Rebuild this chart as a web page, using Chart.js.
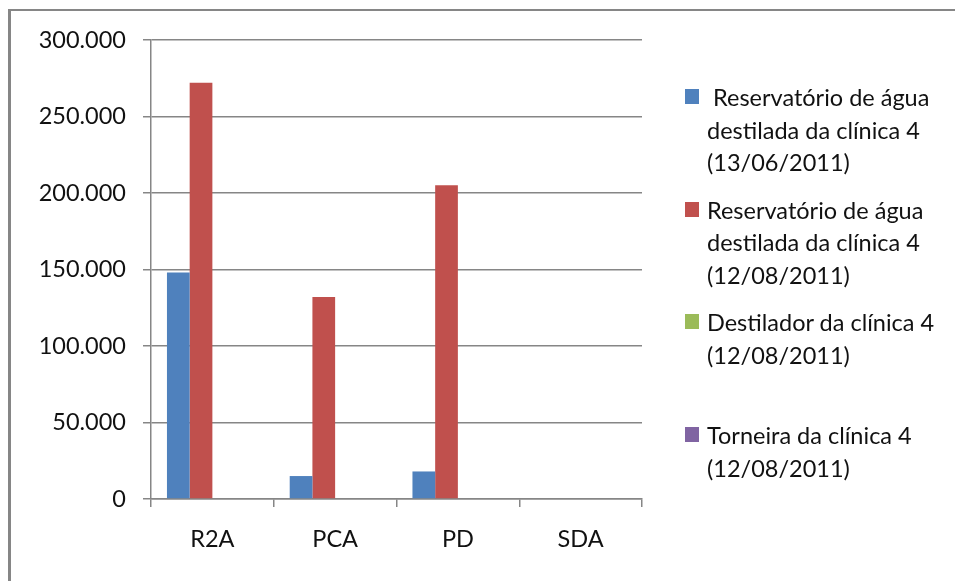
<!DOCTYPE html>
<html>
<head>
<meta charset="utf-8">
<script src="https://cdn.jsdelivr.net/npm/chart.js@4/dist/chart.umd.min.js"></script>
<style>
  html, body { margin: 0; padding: 0; background: #fff; }
  #wrap { position: relative; width: 955px; height: 581px; overflow: hidden; }
  #frame { position: absolute; left: 8px; top: 9px; width: 2000px; height: 2000px;
           border-top: 2px solid #868686; border-left: 3px solid #868686; }
  canvas { position: absolute; left: 0; top: 0; }
  #legend { position: absolute; left: 685px; top: 81px; font-family: Lato, "Open Sans", sans-serif;
            font-size: 23.5px; color: #111; }
  .item { position: relative; height: 112.7px; }
  .box { position: absolute; left: 0; top: 8px; width: 14px; height: 15px; }
  .txt { position: absolute; left: 22px; top: 0; line-height: 32.5px; white-space: pre; }
</style>
</head>
<body>
<div id="wrap">
  <div id="frame"></div>
  <canvas id="c" width="955" height="581"></canvas>
  <div id="legend"></div>
</div>
<script>
// Culture media on the horizontal axis
const categories = ["R2A", "PCA", "PD", "SDA"];

// Sampling points (legend text, one entry per line)
const seriesNames = [
  [" Reservatório de água", "destilada da clínica 4", "(13/06/2011)"],
  ["Reservatório de água", "destilada da clínica 4", "(12/08/2011)"],
  ["Destilador da clínica 4", "(12/08/2011)"],
  ["Torneira da clínica 4", "(12/08/2011)"]
];
const seriesColors = ["#4F81BD", "#C0504D", "#9BBB59", "#8064A2"];

// Counts per medium for each sampling point
const reservatorio1306 = [148000, 15000, 18000, 0];
const reservatorio1208 = [272000, 132000, 205000, 0];
const destilador1208   = [0, 0, 0, 0];
const torneira1208     = [0, 0, 0, 0];

// Value axis ticks
const yTicks = [0, 50000, 100000, 150000, 200000, 250000, 300000];

const seriesValues = [reservatorio1306, reservatorio1208, destilador1208, torneira1208];

const fmt = v => v === 0 ? "0" : v.toLocaleString("pt-BR");

const datasets = seriesValues.map((vals, i) => ({
  label: seriesNames[i].join(" ").trim(),
  data: vals,
  backgroundColor: seriesColors[i],
  borderWidth: 0,
  categoryPercentage: 0.74,
  barPercentage: 1.0
}));

const FONT = { family: "Lato, 'Open Sans', sans-serif", size: 23.5 };

const chart = new Chart(document.getElementById("c"), {
  type: "bar",
  data: { labels: categories, datasets },
  options: {
    responsive: false,
    animation: false,
    devicePixelRatio: 1,
    layout: { padding: { left: 0, top: 40, right: 313, bottom: 0 } },
    plugins: { legend: { display: false }, tooltip: { enabled: false } },
    scales: {
      x: {
        grid: { display: true, drawOnChartArea: false, drawTicks: true, tickLength: 8,
                color: "#868686", lineWidth: 1.5, offset: true },
        border: { display: true, color: "#868686", width: 1.5 },
        ticks: { color: "#111", font: FONT, padding: 18 },
        afterFit: s => { s.height = 82; }
      },
      y: {
        min: 0, max: 300000,
        afterBuildTicks: s => { s.ticks = yTicks.map(v => ({ value: v })); },
        grid: { color: "#868686", lineWidth: 1.5, tickLength: 8 },
        border: { display: true, color: "#868686", width: 1.5 },
        ticks: { color: "#111", font: FONT, padding: 17, callback: v => fmt(v) },
        afterFit: s => { s.width = 151; }
      }
    }
  }
});

// Legend built from the chart's own datasets
const legend = document.getElementById("legend");
chart.data.datasets.forEach((ds, i) => {
  const item = document.createElement("div");
  item.className = "item";
  const box = document.createElement("div");
  box.className = "box";
  box.style.background = ds.backgroundColor;
  const txt = document.createElement("div");
  txt.className = "txt";
  txt.textContent = seriesNames[i].join("\n");
  item.appendChild(box);
  item.appendChild(txt);
  legend.appendChild(item);
});
</script>
</body>
</html>
